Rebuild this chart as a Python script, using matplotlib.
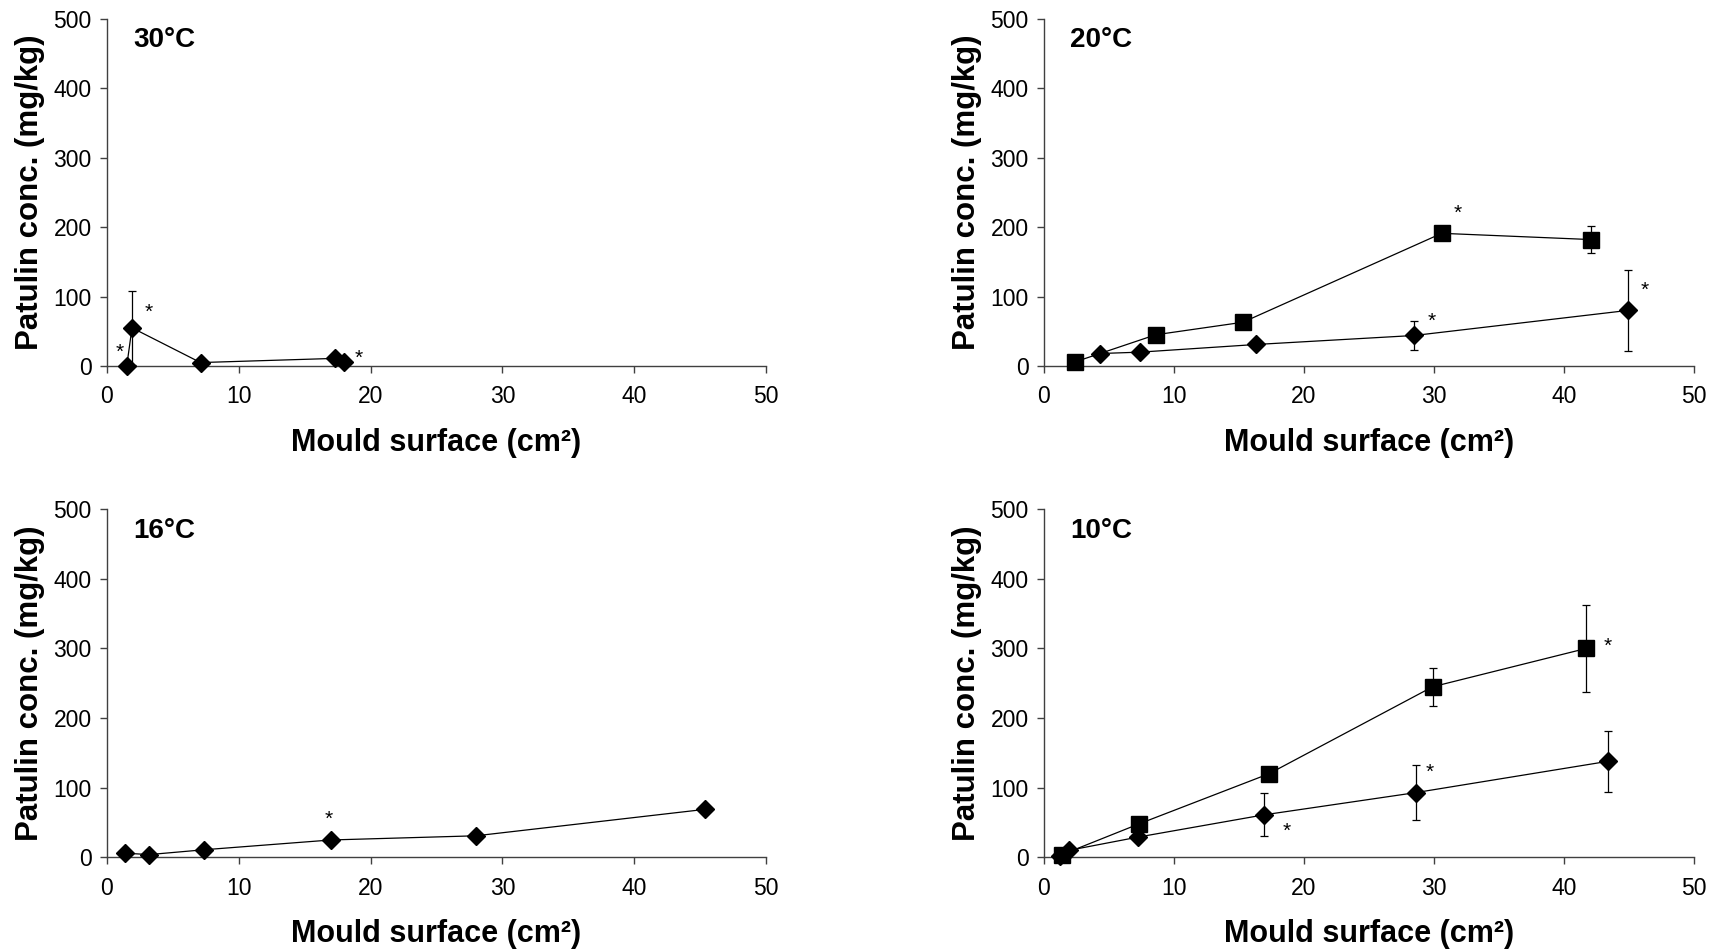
import matplotlib
matplotlib.use("Agg")
import matplotlib.pyplot as plt

plt.rcParams["font.family"] = ["Liberation Sans", "DejaVu Sans"]

# 30 C
t30_x = [1.5, 1.9, 7.1, 17.3, 18.0]
t30_y = [0, 55, 5, 11, 6]
t30_err = [0, 53, 0, 0, 0]
t30_stars = [(1.0, 6), (3.2, 64), (19.1, -2)]

# 20 C
t20_sq_x = [2.4, 8.6, 15.3, 30.6, 42.1]
t20_sq_y = [6, 45, 63, 191, 182]
t20_sq_err = [0, 0, 0, 0, 20]
t20_di_x = [4.3, 7.4, 16.3, 28.5, 44.9]
t20_di_y = [18, 20, 31, 44, 80]
t20_di_err = [0, 0, 0, 21, 58]
t20_stars = [(31.8, 206), (29.8, 51), (46.2, 95)]

# 16 C
t16_x = [1.4, 3.2, 7.4, 17.0, 28.0, 45.4]
t16_y = [6, 4, 11, 25, 31, 69]
t16_err = [0, 0, 0, 0, 0, 0]
t16_stars = [(16.8, 41)]

# 10 C
t10_sq_x = [1.4, 7.3, 17.3, 29.9, 41.7]
t10_sq_y = [4, 48, 120, 245, 300]
t10_sq_err = [0, 9, 0, 27, 63]
t10_di_x = [1.2, 1.9, 7.2, 16.9, 28.6, 43.4]
t10_di_y = [2, 10, 29, 61, 93, 138]
t10_di_err = [0, 0, 0, 31, 40, 44]
t10_stars = [(43.4, 289), (29.7, 109), (18.7, 24)]


def draw_series(ax, x, y, err, marker, ms):
    ax.errorbar(x, y, yerr=err, fmt="-", color="black", lw=0.9,
                elinewidth=0.9, capsize=3, capthick=0.9, zorder=2)
    ax.plot(x, y, linestyle="none", marker=marker, ms=ms,
            color="black", zorder=3, clip_on=False)


def style_axes(ax, title, stars):
    ax.set_xlim(0, 50)
    ax.set_ylim(0, 500)
    ax.set_xticks(range(0, 51, 10))
    ax.set_yticks(range(0, 501, 100))
    for side in ("top", "right"):
        ax.spines[side].set_visible(False)
    for side in ("left", "bottom"):
        ax.spines[side].set_color("#404040")
        ax.spines[side].set_linewidth(1.0)
    ax.tick_params(direction="out", length=5, width=1.0, color="#404040",
                   labelsize=16.5, pad=6)
    ax.tick_params(axis="x", pad=9)
    ax.set_xlabel("Mould surface (cm²)", fontsize=22, fontweight="bold",
                  labelpad=14)
    ax.set_ylabel("Patulin conc. (mg/kg)", fontsize=22.5, fontweight="bold",
                  labelpad=6)
    ax.text(0.04, 0.975, title, transform=ax.transAxes, fontsize=20,
            fontweight="bold", va="top", ha="left")
    for sx, sy in stars:
        ax.text(sx, sy, "*", fontsize=15, ha="center", va="bottom")


fig = plt.figure(figsize=(17.17, 9.5), dpi=100)
ax1 = fig.add_axes([0.0623, 0.6147, 0.3838, 0.3657])
ax2 = fig.add_axes([0.6080, 0.6147, 0.3786, 0.3657])
ax3 = fig.add_axes([0.0623, 0.0975, 0.3838, 0.3665])
ax4 = fig.add_axes([0.6080, 0.0975, 0.3786, 0.3665])

draw_series(ax1, t30_x, t30_y, t30_err, "D", 9)
style_axes(ax1, "30°C", t30_stars)

draw_series(ax2, t20_sq_x, t20_sq_y, t20_sq_err, "s", 11)
draw_series(ax2, t20_di_x, t20_di_y, t20_di_err, "D", 9)
style_axes(ax2, "20°C", t20_stars)

draw_series(ax3, t16_x, t16_y, t16_err, "D", 9)
style_axes(ax3, "16°C", t16_stars)

draw_series(ax4, t10_sq_x, t10_sq_y, t10_sq_err, "s", 11)
draw_series(ax4, t10_di_x, t10_di_y, t10_di_err, "D", 9)
style_axes(ax4, "10°C", t10_stars)

fig.savefig("out.png", dpi=100)
